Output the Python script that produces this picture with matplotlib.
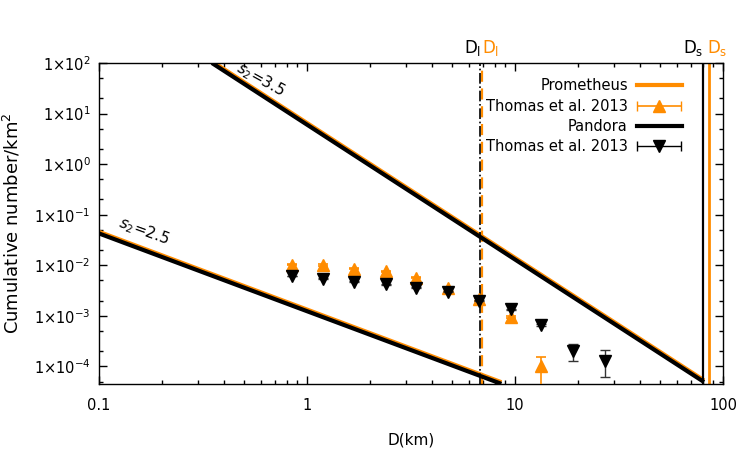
import numpy as np
import matplotlib
matplotlib.use("Agg")
import matplotlib.pyplot as plt
from matplotlib.ticker import LogLocator, FixedLocator, FuncFormatter, NullFormatter
from matplotlib.legend_handler import HandlerErrorbar
import matplotlib.transforms as mtransforms

ORANGE = '#ff8c00'

# Thomas et al. 2013 counts (cumulative number / km^2)
d_bins = [0.844, 1.197, 1.687, 2.39, 3.36, 4.77, 6.73, 9.53, 13.4, 19.0, 27.1]

prom_n = [0.0103, 0.0101, 0.0085, 0.0076, 0.0057, 0.0036, 0.0021, 0.00095, 0.0001]
prom_lo = [0.0003, 0.0003, 0.0002, 0.0002, 0.0002, 0.0001, 0.0001, 0.00005, 0.00008]
prom_hi = [0.0003, 0.0003, 0.0002, 0.0002, 0.0002, 0.0001, 0.0001, 0.00005, 0.00005]

pan_n = [0.0061, 0.0054, 0.0047, 0.0042, 0.0036, 0.0030, 0.0020, 0.00134, 0.00066, 0.000205, 0.000126]
pan_lo = [0.0001, 0.0001, 0.0001, 0.0001, 0.0001, 0.0001, 0.00005, 0.00004, 0.00004, 0.000076, 0.000064]
pan_hi = [0.0001, 0.0001, 0.0001, 0.0001, 0.0001, 0.0001, 0.00005, 0.00004, 0.00003, 0.000075, 0.000084]

# model power laws (end points)
s35_d = [0.349, 81.0]
s35_n = [100.0, 4.9e-5]
s25_d = [0.1, 8.6]
s25_n = [0.0425, 4.5e-5]

# characteristic diameters
dl_pan, dl_prom = 6.8, 6.95
ds_pan, ds_prom = 80.5, 85.9

plt.rcParams['mathtext.fontset'] = 'dejavusans'

fig = plt.figure(figsize=(7.5, 4.5), dpi=100)
ax = fig.add_axes([0.132, 0.147, 0.832, 0.713])

# power-law lines: Prometheus (orange) slightly above Pandora (black)
for dd, nn in [(s35_d, s35_n), (s25_d, s25_n)]:
    ax.plot(dd, np.array(nn) * 1.07, color=ORANGE, lw=3.2, solid_capstyle='butt', zorder=2)
    ax.plot(dd, nn, color='black', lw=3.0, solid_capstyle='butt', zorder=3)

# vertical lines
ax.axvline(dl_prom, color=ORANGE, lw=1.6, ls=(0, (5, 3)), zorder=2)
ax.axvline(dl_pan, color='black', lw=1.2, ls='-.', zorder=2)
ax.axvline(ds_pan, color='black', lw=1.6, zorder=2)
ax.axvline(ds_prom, color=ORANGE, lw=2.0, zorder=2)

# data points
ax.errorbar(d_bins[:len(prom_n)], prom_n, yerr=[prom_lo, prom_hi], fmt='^', color=ORANGE,
            ms=9, capsize=3.6, elinewidth=1.2, capthick=1.2, zorder=4)
ax.errorbar(d_bins, pan_n, yerr=[pan_lo, pan_hi], fmt='v', color='black',
            ms=9, capsize=3.6, elinewidth=1.0, ecolor='#333333', capthick=1.0, zorder=5)

# labels on the lines
ax.text(0.6, 47, r'$s_2$=3.5', rotation=-29, fontsize=11, ha='center', va='center')
ax.text(0.165, 0.046, r'$s_2$=2.5', rotation=-20, fontsize=11, ha='center', va='center')

# D_l, D_s labels above the frame
trans = mtransforms.blended_transform_factory(ax.transData, ax.transAxes)
ax.text(6.25, 1.015, r'D$_\mathregular{l}$', transform=trans, ha='center', va='bottom', fontsize=12, color='black')
ax.text(7.6, 1.015, r'D$_\mathregular{l}$', transform=trans, ha='center', va='bottom', fontsize=12, color=ORANGE)
ax.text(72.0, 1.015, r'D$_\mathregular{s}$', transform=trans, ha='center', va='bottom', fontsize=12, color='black')
ax.text(93.5, 1.015, r'D$_\mathregular{s}$', transform=trans, ha='center', va='bottom', fontsize=12, color=ORANGE)

ax.set_xscale('log')
ax.set_yscale('log')
ax.set_xlim(0.1, 100)
ax.set_ylim(4.5e-5, 100)

ax.xaxis.set_major_locator(FixedLocator([0.1, 1, 10, 100]))
ax.xaxis.set_major_formatter(FuncFormatter(lambda v, p: '%g' % v))
ax.xaxis.set_minor_locator(LogLocator(base=10, subs=np.arange(2, 10)))
ax.xaxis.set_minor_formatter(NullFormatter())
ax.yaxis.set_major_locator(FixedLocator([1e-4, 1e-3, 1e-2, 1e-1, 1, 10, 100]))
ax.yaxis.set_major_formatter(FuncFormatter(lambda v, p: r'1$\times$10$^{%d}$' % int(round(np.log10(v)))))
ax.yaxis.set_minor_locator(LogLocator(base=10, subs=(2, 5)))
ax.yaxis.set_minor_formatter(NullFormatter())

ax.tick_params(which='both', direction='in', top=True, right=True, labelsize=10.5, width=1)
ax.tick_params(which='major', length=6)
ax.tick_params(axis='x', which='major', pad=10)
ax.tick_params(axis='y', which='major', pad=6)
ax.tick_params(which='minor', length=3)
for s in ax.spines.values():
    s.set_linewidth(1.0)

ax.set_xlabel('D(km)', fontsize=11, labelpad=14)
ax.set_ylabel('Cumulative number/km$^2$', fontsize=13, labelpad=8)

# legend proxies (gnuplot style, key on the right)
h1, = ax.plot([], [], color=ORANGE, lw=3)
h2 = ax.errorbar([np.nan], [np.nan], xerr=[1], fmt='^', color=ORANGE, ms=9, capsize=3.6, elinewidth=1.2)
h3, = ax.plot([], [], color='black', lw=3)
h4 = ax.errorbar([np.nan], [np.nan], xerr=[1], fmt='v', color='black', ms=9, capsize=3.6, elinewidth=1.0)
fig.legend([h1, h2, h3, h4], ['Prometheus', 'Thomas et al. 2013', 'Pandora', 'Thomas et al. 2013'],
           loc='upper right', bbox_to_anchor=(0.909, 0.826), bbox_transform=fig.transFigure,
           frameon=False, markerfirst=False, fontsize=10.5, handlelength=3.1,
           handletextpad=0.6, labelspacing=0.37, borderpad=0, borderaxespad=0,
           handler_map={type(h2): HandlerErrorbar(xerr_size=1.5)})

fig.savefig('out.png', dpi=100)
